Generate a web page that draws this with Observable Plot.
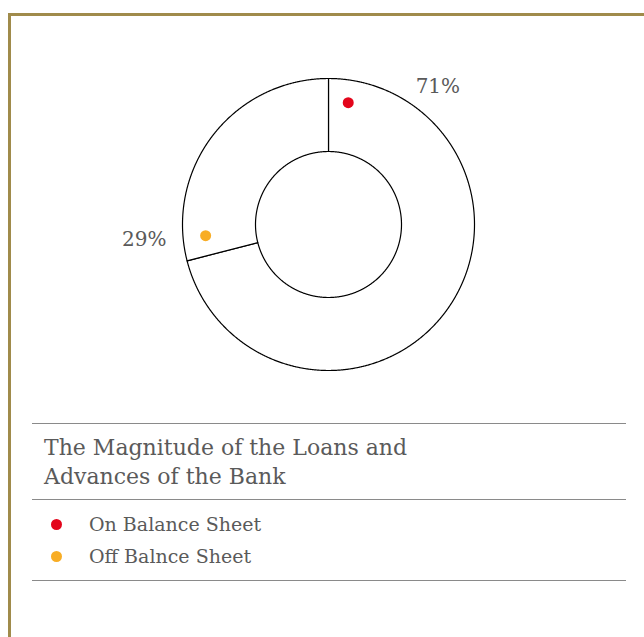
<!DOCTYPE html>
<html>
<head>
<meta charset="utf-8">
<script src="https://cdn.jsdelivr.net/npm/d3@7"></script>
<script src="https://cdn.jsdelivr.net/npm/@observablehq/plot@0.6"></script>
<style>
  html, body { margin:0; padding:0; background:#fff; overflow:hidden; }
  body { width:644px; height:637px; position:relative; font-family:"DejaVu Serif", serif; color:#555; }
  #frame { position:absolute; left:8px; top:13px; width:700px; height:700px;
           border-left:3px solid #a08b4b; border-top:3px solid #a08b4b; box-sizing:border-box; }
  #chart { position:absolute; left:0; top:0; }
  .rule { position:absolute; left:32px; width:594px; height:0; border-top:1px solid #8a8a8a; }
  #title { position:absolute; left:44px; top:433px; font-size:22px; line-height:29px; color:#5a5a5a; white-space:nowrap; }
  .leg { position:absolute; left:44px; font-size:19px; color:#5a5a5a; height:24px; line-height:24px; }
  .leg .sw { position:absolute; left:7px; top:7px; width:11px; height:11px; border-radius:50%; }
  .leg .tx { position:absolute; left:45px; top:0; white-space:nowrap; }
</style>
</head>
<body>
<div id="frame"></div>
<div id="chart"></div>
<div class="rule" style="top:423px"></div>
<div id="title">The Magnitude of the Loans and<br>Advances of the Bank</div>
<div class="rule" style="top:499px"></div>
<div id="legend"></div>
<div class="rule" style="top:580px"></div>
<script>
const categories = ["On Balance Sheet", "Off Balnce Sheet"];
const values = [71, 29];
const colors = ["#e3051b", "#f8ad25"];
const labels = values.map(v => `${v}%`);

const data = categories.map((c, i) => ({category: c, value: values[i], color: colors[i], label: labels[i]}));
const arcs = d3.pie().sort(null).value(d => d.value)(data);

const innerR = 0.5, outerR = 1;
const pt = (a, r) => ({x: r * Math.sin(a), y: r * Math.cos(a)});

// slice outlines (closed polygons along the arcs)
const outline = [];
arcs.forEach((a, i) => {
  const n = Math.max(2, Math.ceil((a.endAngle - a.startAngle) / 0.005));
  for (let k = 0; k <= n; k++) {
    const t = a.startAngle + (a.endAngle - a.startAngle) * k / n;
    outline.push({slice: i, ...pt(t, outerR)});
  }
  for (let k = n; k >= 0; k--) {
    const t = a.startAngle + (a.endAngle - a.startAngle) * k / n;
    outline.push({slice: i, ...pt(t, innerR)});
  }
  outline.push({slice: i, ...pt(a.startAngle, outerR)});
});

const deg = Math.PI / 180;
const dots = arcs.map(a => ({...pt(a.startAngle + 9.2 * deg, 0.845), color: a.data.color}));
const labelPts = arcs.map(a => {
  const span = (a.endAngle - a.startAngle) / deg;
  const ang = a.startAngle + (0.154 * span - 7) * deg;
  return {...pt(ang, 1.115), label: a.data.label, right: Math.sin(ang) >= 0};
});

const cx = 328, cy = 224, R = 146;
const chart = Plot.plot({
  width: 644,
  height: 400,
  margin: 0,
  x: {domain: [-1, 1], range: [cx - R, cx + R], axis: null},
  y: {domain: [-1, 1], range: [cy + R, cy - R], axis: null},
  marks: [
    Plot.line(outline, {x: "x", y: "y", z: "slice", stroke: "#000", strokeWidth: 1.2, fill: "white", curve: "linear"}),
    Plot.dot(dots, {x: "x", y: "y", r: 5.5, fill: "color", stroke: null}),
    Plot.text(labelPts.filter(d => d.right), {x: "x", y: "y", text: "label", textAnchor: "start", fontSize: 20, fill: "#5a5a5a", fontFamily: "DejaVu Serif"}),
    Plot.text(labelPts.filter(d => !d.right), {x: "x", y: "y", text: "label", textAnchor: "end", fontSize: 20, fill: "#5a5a5a", fontFamily: "DejaVu Serif"})
  ],
  style: {background: "transparent", overflow: "visible"}
});
document.getElementById("chart").appendChild(chart);

const legend = document.getElementById("legend");
data.forEach((d, i) => {
  const row = document.createElement("div");
  row.className = "leg";
  row.style.top = (512 + i * 32) + "px";
  row.innerHTML = `<span class="sw" style="background:${d.color}"></span><span class="tx">${d.category}</span>`;
  legend.appendChild(row);
});
</script>
</body>
</html>
